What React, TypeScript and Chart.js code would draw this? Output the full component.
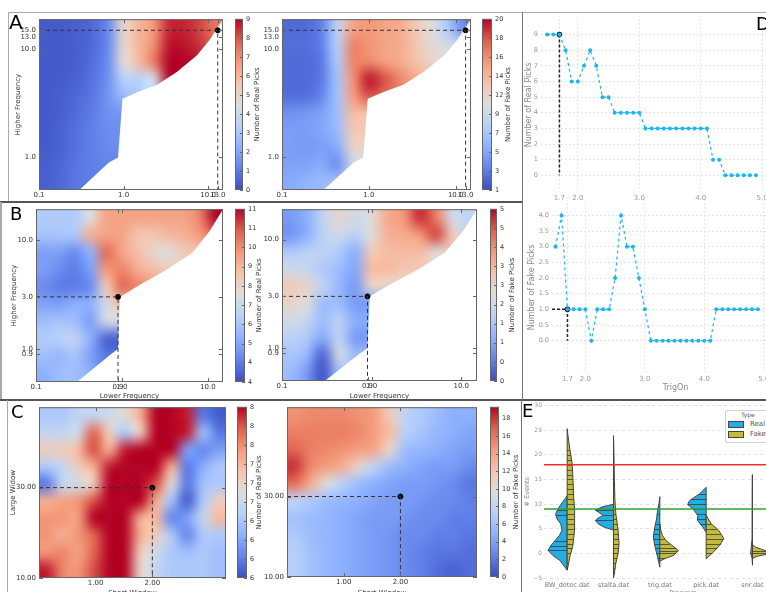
import React, { useEffect, useRef } from "react";
import { Chart, registerables } from "chart.js";
Chart.register(...registerables);
Chart.defaults.font.family = "'DejaVu Sans', sans-serif";

// ---------------- Panel A / B (frequency grids, log axes) ----------------
const A_X_TICKS = [0.1, 1.0, 10.0, 13.0];
const A_Y_TICKS = [1.0, 10.0, 13.0, 15.0];
const B_X_TICKS = [0.1, 0.9, 1.0, 10.0];
const B_Y_TICKS = [0.9, 1.0, 3.0, 10.0];
const A_BEST = [13.0, 15.0];
const B_BEST = [0.9, 3.0];
const LOW_RANGE = [0.1, 15];
const HIGH_RANGE = [0.5, 19];

// invalid region (lower >= higher), boundary in data coordinates
const MASK_A_X = [0.3, 0.67, 0.86, 0.97, 1.5, 2.5, 4.3, 7.4, 10.5, 15, 15];
const MASK_A_Y = [0.5, 0.9, 1.0, 3.5, 4.06, 4.7, 6.2, 8.8, 12.3, 19, 0.5];
const MASK_B_X = [0.3, 0.72, 0.9, 0.95, 1.6, 3.3, 6.6, 10.5, 15, 15];
const MASK_B_Y = [0.5, 0.88, 1.0, 3.0, 3.85, 5.3, 7.6, 12, 19, 0.5];

// rows: top (high) -> bottom (low); columns: left (low) -> right (high)
const A_REAL_GRID = [
  [0.3, 0.3, 0.4, 0.6, 1.3, 4.8, 6.0, 6.8, 8.6, 8.6, 8.2, 7.4],
  [0.3, 0.3, 0.4, 0.6, 1.3, 4.8, 6.0, 7.0, 8.8, 8.8, 8.4, 7.8],
  [0.3, 0.3, 0.4, 0.7, 1.4, 4.6, 5.8, 7.4, 9.0, 9.0, 8.8, 8.4],
  [0.3, 0.3, 0.5, 0.8, 1.5, 3.4, 3.4, 4.2, 9.0, 9.0, 9.0, 8.6],
  [0.3, 0.4, 0.6, 0.9, 1.6, 2.6, 3.0, 3.6, 9.0, 9.0, 9.0, 8.6],
  [0.3, 0.4, 0.7, 1.0, 1.5, 1.6, 1.6, 1.6, 1.6, 1.6, 1.6, 1.6],
  [0.3, 0.5, 0.8, 1.1, 1.4, 1.5, 1.5, 1.5, 1.5, 1.5, 1.5, 1.5],
  [0.3, 0.5, 0.8, 1.1, 1.3, 1.4, 1.4, 1.4, 1.4, 1.4, 1.4, 1.4],
  [0.4, 0.6, 0.9, 1.1, 1.2, 1.2, 1.2, 1.2, 1.2, 1.2, 1.2, 1.2],
  [0.4, 0.6, 0.9, 1.0, 1.0, 1.0, 1.0, 1.0, 1.0, 1.0, 1.0, 1.0],
];
const A_FAKE_GRID = [
  [2.3, 2.3, 3.3, 8.6, 14.7, 15.3, 14.7, 14.3, 12.4, 10.5, 7.6, 3.9],
  [2.5, 2.5, 3.3, 8.0, 16.2, 15.5, 14.7, 14.3, 12.8, 11.0, 10.0, 8.5],
  [2.3, 2.3, 3.0, 7.6, 16.0, 16.0, 15.0, 14.3, 13.0, 11.5, 10.5, 9.5],
  [2.3, 2.3, 3.0, 7.0, 15.5, 19.5, 18.0, 16.0, 14.5, 13.0, 11.5, 10.5],
  [2.5, 2.5, 3.6, 7.0, 15.0, 18.0, 17.0, 16.0, 15.0, 14.0, 13.0, 12.0],
  [4.2, 4.5, 5.0, 6.7, 13.3, 13.0, 13.0, 13.0, 13.0, 13.0, 13.0, 13.0],
  [4.8, 4.8, 5.2, 6.5, 12.5, 12.5, 12.5, 12.5, 12.5, 12.5, 12.5, 12.5],
  [4.8, 4.6, 4.8, 5.5, 11.5, 11.5, 11.5, 11.5, 11.5, 11.5, 11.5, 11.5],
  [5.0, 5.0, 5.5, 4.0, 9.5, 9.5, 9.5, 9.5, 9.5, 9.5, 9.5, 9.5],
  [5.5, 6.0, 6.5, 7.0, 8.0, 8.0, 8.0, 8.0, 8.0, 8.0, 8.0, 8.0],
];
const B_REAL_GRID = [
  [6.8, 6.8, 6.8, 8.0, 9.7, 9.7, 9.7, 9.7, 9.7, 9.7, 10.3, 11.9],
  [6.6, 6.6, 6.7, 9.5, 9.7, 9.7, 8.9, 8.9, 9.2, 9.4, 9.9, 10.7],
  [5.6, 5.6, 5.2, 6.0, 10.7, 9.7, 9.1, 8.3, 8.0, 8.7, 9.0, 9.5],
  [5.6, 5.2, 4.9, 5.6, 9.9, 10.3, 9.5, 9.1, 8.7, 8.7, 9.0, 9.5],
  [5.2, 4.9, 4.9, 5.2, 8.7, 10.7, 10.3, 9.9, 9.5, 9.5, 9.5, 9.5],
  [5.7, 5.6, 6.0, 6.0, 7.6, 9.0, 9.0, 9.0, 9.0, 9.0, 9.0, 9.0],
  [6.4, 6.6, 6.4, 5.6, 7.6, 7.6, 7.6, 7.6, 7.6, 7.6, 7.6, 7.6],
  [6.8, 7.0, 7.2, 6.0, 4.4, 4.4, 4.4, 4.4, 4.4, 4.4, 4.4, 4.4],
  [6.4, 6.2, 6.6, 5.6, 4.8, 4.8, 4.8, 4.8, 4.8, 4.8, 4.8, 4.8],
  [6.0, 6.4, 6.4, 6.0, 5.0, 5.0, 5.0, 5.0, 5.0, 5.0, 5.0, 5.0],
];
const B_FAKE_GRID = [
  [1.1, 1.4, 2.3, 3.1, 2.6, 2.9, 4.0, 4.3, 5.4, 4.6, 2.6, 2.3],
  [1.0, 1.4, 2.2, 2.6, 2.2, 2.9, 3.9, 4.0, 4.3, 5.2, 3.4, 2.3],
  [2.0, 2.2, 2.3, 2.0, 1.4, 3.4, 3.7, 3.7, 3.7, 2.9, 3.4, 3.4],
  [2.6, 2.4, 2.0, 1.7, 1.3, 3.7, 3.7, 3.5, 3.4, 3.4, 3.4, 3.4],
  [3.4, 3.1, 2.3, 1.6, 1.1, 3.1, 3.1, 3.1, 3.1, 3.1, 3.1, 3.1],
  [3.1, 2.9, 1.7, 1.7, 1.1, 1.1, 1.1, 1.1, 1.1, 1.1, 1.1, 1.1],
  [2.6, 2.4, 1.7, 2.2, 1.4, 1.4, 1.4, 1.4, 1.4, 1.4, 1.4, 1.4],
  [2.2, 2.0, 1.3, 2.3, 1.1, 1.1, 1.1, 1.1, 1.1, 1.1, 1.1, 1.1],
  [1.9, 1.6, 0.3, 2.6, 1.7, 1.7, 1.7, 1.7, 1.7, 1.7, 1.7, 1.7],
  [1.7, 1.1, 0.1, 1.7, 1.7, 1.7, 1.7, 1.7, 1.7, 1.7, 1.7, 1.7],
];

// ---------------- Panel C (window grids, linear axes) ----------------
const C_X_TICKS = [1.0, 2.0];
const C_Y_TICKS = [10.0, 30.0];
const C_BEST = [2.0, 30.0];
const C_REAL_GRID = [
  [7.0, 7.0, 7.2, 7.2, 7.3, 7.5, 8.0, 8.9, 8.9, 8.8, 6.3, 6.1],
  [7.2, 7.2, 7.3, 8.5, 7.7, 7.0, 7.7, 8.9, 8.9, 8.8, 6.9, 6.3],
  [7.7, 7.7, 7.9, 8.6, 8.0, 8.8, 8.9, 8.9, 8.9, 6.6, 6.4, 6.6],
  [7.0, 7.2, 7.7, 8.0, 8.8, 8.9, 8.9, 8.9, 8.0, 6.3, 6.7, 7.0],
  [6.3, 7.2, 7.3, 7.7, 8.9, 8.9, 8.9, 8.6, 7.5, 6.3, 6.9, 7.0],
  [8.0, 8.1, 8.2, 8.6, 8.9, 8.9, 8.9, 8.0, 6.9, 6.1, 7.0, 7.7],
  [8.2, 8.2, 8.1, 8.9, 8.9, 8.9, 8.0, 7.9, 6.4, 6.6, 7.2, 7.9],
  [8.2, 8.0, 8.2, 8.5, 8.9, 8.9, 8.0, 7.7, 7.0, 6.4, 7.0, 7.0],
  [8.2, 8.3, 8.1, 8.5, 8.9, 8.9, 7.7, 7.3, 7.0, 6.9, 7.0, 6.9],
  [8.8, 8.3, 8.2, 8.6, 8.9, 8.9, 7.6, 7.2, 7.0, 7.0, 7.0, 6.9],
];
const C_FAKE_GRID = [
  [14.8, 15.2, 15.2, 15.2, 14.8, 14.3, 11.4, 7.6, 6.7, 5.7, 4.8, 4.8],
  [15.6, 15.6, 15.6, 15.6, 15.2, 14.3, 12.4, 7.2, 6.3, 5.3, 4.8, 4.2],
  [16.7, 15.6, 15.2, 14.8, 14.3, 13.7, 10.5, 5.7, 5.3, 4.8, 4.2, 3.8],
  [18.1, 15.2, 14.3, 13.3, 10.5, 7.6, 5.7, 4.8, 4.2, 3.8, 3.8, 2.9],
  [16.2, 13.3, 9.5, 7.2, 5.7, 4.8, 4.2, 3.8, 3.8, 3.4, 2.9, 1.9],
  [7.6, 6.7, 5.7, 5.3, 4.8, 4.2, 3.8, 3.8, 3.4, 2.9, 2.9, 2.3],
  [6.1, 5.7, 5.3, 4.8, 4.2, 3.8, 3.8, 3.4, 2.9, 2.9, 2.3, 2.3],
  [6.7, 5.7, 5.3, 4.8, 4.2, 3.8, 3.4, 2.9, 2.9, 2.3, 2.3, 1.9],
  [7.2, 6.1, 5.3, 4.8, 4.2, 3.8, 3.4, 2.9, 2.3, 1.9, 1.9, 1.5],
  [7.2, 6.1, 5.3, 4.8, 4.2, 3.8, 3.4, 2.9, 2.3, 1.5, 1.0, 1.5],
];

// colour bar ranges and tick labels (bottom -> top)
const CB_A_REAL = { min: 0, max: 9, labels: ["0", "1", "2", "3", "4", "5", "6", "7", "8", "9"] };
const CB_A_FAKE = { min: 1, max: 20, labels: ["1", "3", "5", "7", "9", "12", "14", "16", "18", "20"] };
const CB_B_REAL = { min: 4, max: 11.9, labels: ["4", "4", "5", "6", "7", "8", "9", "10", "11", "11"] };
const CB_B_FAKE = { min: 0, max: 5.7, labels: ["0", "0", "1", "1", "2", "3", "3", "4", "5", "5"] };
const CB_C_REAL = { min: 6, max: 8.9, labels: ["6", "6", "6", "6", "7", "7", "7", "8", "8", "8"] };
const CB_C_FAKE = { min: 0, max: 19.3, ticks: [0, 2, 4, 6, 8, 10, 12, 14, 16, 18], labels: ["0", "2", "4", "6", "8", "10", "12", "14", "16", "18"] };

// ---------------- Panel D ----------------
const TRIG_ON = [1.5, 1.6, 1.7, 1.8, 1.9, 2.0, 2.1, 2.2, 2.3, 2.4, 2.5, 2.6, 2.7, 2.8, 2.9, 3.0, 3.1, 3.2, 3.3, 3.4, 3.5, 3.6, 3.7, 3.8, 3.9, 4.0, 4.1, 4.2, 4.3, 4.4, 4.5, 4.6, 4.7, 4.8, 4.9];
const REAL_PICKS = [9, 9, 9, 8, 6, 6, 7, 8, 7, 5, 5, 4, 4, 4, 4, 4, 3, 3, 3, 3, 3, 3, 3, 3, 3, 3, 3, 1, 1, 0, 0, 0, 0, 0, 0];
const FAKE_PICKS = [3, 4, 1, 1, 1, 1, 0, 1, 1, 1, 2, 4, 3, 3, 2, 1, 0, 0, 0, 0, 0, 0, 0, 0, 0, 0, 0, 1, 1, 1, 1, 1, 1, 1, 1];
const BEST_TRIG = 1.7;
const D_X_TICKS = [1.7, 2.0, 3.0, 4.0, 5.0];
const D_REAL_Y_TICKS = [0, 1, 2, 3, 4, 5, 6, 7, 8, 9];
const D_FAKE_Y_TICKS = [0, 0.5, 1, 1.5, 2, 2.5, 3, 3.5, 4];

// ---------------- Panel E (split violins) ----------------
const PROGRAMS = ["BW_detec.dat", "stalta.dat", "trig.dat", "pick.dat", "snr.dat"];
const E_Y_TICKS = [-5, 0, 5, 10, 15, 20, 25, 30];
const REAL_LIMIT = 9;
const FAKE_LIMIT = 18;
// outlines: [events, half width in category units]
const BW_REAL = [[-3.4, 0], [-2.4, 0.08], [-1.4, 0.16], [-0.5, 0.3], [0.6, 0.41], [1.5, 0.36], [2.6, 0.26], [3.6, 0.17], [4.7, 0.11], [6, 0.14], [7, 0.22], [8, 0.25], [9, 0.2], [10, 0.13], [11, 0.05], [11.7, 0]];
const BW_FAKE = [[-3.4, 0], [-2.6, 0.02], [-0.6, 0.06], [1.4, 0.12], [3, 0.14], [4.7, 0.16], [7, 0.16], [9, 0.16], [11.4, 0.14], [14, 0.13], [16, 0.12], [18, 0.11], [20, 0.08], [21, 0.06], [23, 0.03], [25.3, 0]];
const STALTA_REAL = [[4.8, 0.02], [5.3, 0.2], [6, 0.33], [6.7, 0.39], [7.2, 0.33], [7.7, 0.22], [8.2, 0.3], [8.8, 0.39], [9.4, 0.25], [9.9, 0.04]];
const STALTA_FAKE = [[-5, 0], [-4, 0.02], [-2, 0.05], [0, 0.1], [2, 0.12], [4.7, 0.1], [8, 0.05], [11, 0.03], [14.8, 0.02], [20, 0.01], [23.9, 0]];
const TRIG_REAL = [[-2.8, 0], [-0.7, 0.05], [1.6, 0.11], [3.3, 0.14], [5.3, 0.11], [7, 0.07], [8.7, 0.05], [10, 0.02], [11.5, 0]];
const TRIG_FAKE = [[-1.6, 0], [-1.1, 0.1], [-0.4, 0.3], [0.6, 0.4], [1.5, 0.28], [2.6, 0.13], [3.6, 0.06], [4.7, 0.02], [6, 0]];
const PICK_REAL = [[4.3, 0], [5.3, 0.07], [6.7, 0.19], [7.7, 0.18], [9.1, 0.29], [9.9, 0.4], [10.7, 0.36], [12.1, 0.14], [13.4, 0]];
const PICK_FAKE = [[-1.1, 0], [0.3, 0.16], [1.6, 0.29], [3, 0.38], [4.7, 0.27], [6, 0.11], [7.7, 0]];
const SNR_REAL = [[-2.4, 0], [-1, 0.01], [0, 0.04], [1, 0.03], [3, 0.01], [15.8, 0.006], [16, 0]];
const SNR_FAKE = [[-1, 0], [-0.6, 0.1], [-0.2, 0.3], [0.3, 0.36], [0.8, 0.2], [1.3, 0.06], [1.8, 0]];
// individual observations (sticks)
const BW_REAL_OBS = [0.6, 1.4, 2.6, 7.7, 8.8];
const BW_FAKE_OBS = [0, 1, 2, 3, 4, 5, 6, 7, 8, 9, 10, 11, 12, 13, 14, 15, 16, 17, 18, 19, 20, 21];
const STALTA_REAL_OBS = [6.7, 7.7, 8.8];
const STALTA_FAKE_OBS = [-3, -2, -1, 0, 1, 2, 3, 4, 5, 6, 7, 8, 9, 12, 15, 18];
const TRIG_REAL_OBS = [-1, 0, 1, 2, 3, 4, 5, 6, 8];
const TRIG_FAKE_OBS = [-1, 0, 0.5, 1, 2, 3];
const PICK_REAL_OBS = [6, 7, 8, 9, 10, 11, 12];
const PICK_FAKE_OBS = [0, 1, 2, 3, 4, 5, 6];
const SNR_REAL_OBS = [0];
const SNR_FAKE_OBS = [0, 0.5];

const REAL_COLOR = "#22aee2";
const FAKE_COLOR = "#c4ba3c";
const LINE_BLUE = "#1ab6ee";

// ---------------- helpers ----------------
const COOLWARM = [
  [0.0, 59, 76, 192], [0.125, 98, 130, 234], [0.25, 141, 176, 254], [0.375, 184, 208, 249],
  [0.5, 221, 221, 221], [0.625, 245, 196, 173], [0.75, 244, 154, 123], [0.875, 222, 96, 77], [1.0, 180, 4, 38],
];
function coolwarm(t: number) {
  t = Math.max(0, Math.min(1, t));
  for (let i = 1; i < COOLWARM.length; i++) {
    const a = COOLWARM[i - 1], b = COOLWARM[i];
    if (t <= b[0]) {
      const f = (t - a[0]) / (b[0] - a[0]);
      return [a[1] + f * (b[1] - a[1]), a[2] + f * (b[2] - a[2]), a[3] + f * (b[3] - a[3])];
    }
  }
  return [180, 4, 38];
}
const rgb = (c: number[]) => `rgb(${Math.round(c[0])},${Math.round(c[1])},${Math.round(c[2])})`;

const HEAT_TICK = 7;
const HEAT_TITLE = 7;
const CB_TICK = 6.5;
const CB_TITLE = 7;

function ChartCanvas({ x, y, w, h, make }: any) {
  const ref = useRef<HTMLCanvasElement>(null);
  useEffect(() => {
    const chart = new Chart(ref.current as any, make(w, h));
    return () => chart.destroy();
  }, []);
  return <canvas ref={ref} width={w} height={h} style={{ position: "absolute", left: x, top: y, width: w, height: h }} />;
}

function axisOpts(type: string, min: number, max: number, ticks: number[], labels: string[], title: string | undefined, fit: any, pad: number) {
  return {
    type, min, max,
    afterBuildTicks: (s: any) => { s.ticks = ticks.map((v) => ({ value: v })); },
    afterFit: fit,
    grid: { display: false, drawTicks: false },
    border: { display: false },
    ticks: { autoSkip: false, maxRotation: 0, minRotation: 0, padding: pad, color: "#333", font: { size: HEAT_TICK }, callback: (_v: any, i: number) => labels[i] },
    title: { display: !!title, text: title || "", color: "#333", font: { size: HEAT_TITLE }, padding: 0 },
  };
}

function heatPlugin(c: any) {
  return {
    id: "heat",
    beforeDatasetsDraw(chart: any) {
      const { ctx, chartArea: a, scales } = chart;
      const xs = scales.x, ys = scales.y;
      const rows = c.grid.length, cols = c.grid[0].length;
      const off = document.createElement("canvas");
      off.width = cols; off.height = rows;
      const o = off.getContext("2d") as CanvasRenderingContext2D;
      const img = o.createImageData(cols, rows);
      for (let r = 0; r < rows; r++) {
        for (let k = 0; k < cols; k++) {
          const col = coolwarm((c.grid[r][k] - c.vMin) / (c.vMax - c.vMin));
          const p = (r * cols + k) * 4;
          img.data[p] = col[0]; img.data[p + 1] = col[1]; img.data[p + 2] = col[2]; img.data[p + 3] = 255;
        }
      }
      o.putImageData(img, 0, 0);
      const x0 = xs.getPixelForValue(c.xMin), x1 = xs.getPixelForValue(c.xMax);
      const y0 = ys.getPixelForValue(c.yMax), y1 = ys.getPixelForValue(c.yMin);
      ctx.save();
      ctx.beginPath(); ctx.rect(a.left, a.top, a.width, a.height); ctx.clip();
      ctx.imageSmoothingEnabled = true;
      (ctx as any).imageSmoothingQuality = "high";
      ctx.drawImage(off, x0, y0, x1 - x0, y1 - y0);
      if (c.maskX) {
        ctx.fillStyle = "#fff";
        ctx.beginPath();
        c.maskX.forEach((mx: number, i: number) => {
          const px = xs.getPixelForValue(mx), py = ys.getPixelForValue(c.maskY[i]);
          if (i) ctx.lineTo(px, py); else ctx.moveTo(px, py);
        });
        ctx.closePath(); ctx.fill();
      }
      ctx.restore();
    },
    afterDatasetsDraw(chart: any) {
      const { ctx, chartArea: a, scales } = chart;
      ctx.save();
      ctx.strokeStyle = "#666"; ctx.lineWidth = 1;
      ctx.strokeRect(a.left + 0.5, a.top + 0.5, a.width - 1, a.height - 1);
      ctx.beginPath();
      c.xTicks.forEach((v: number) => {
        const px = Math.round(scales.x.getPixelForValue(v)) + 0.5;
        ctx.moveTo(px, a.bottom); ctx.lineTo(px, a.bottom - 4);
        ctx.moveTo(px, a.top); ctx.lineTo(px, a.top + 4);
      });
      c.yTicks.forEach((v: number) => {
        const py = Math.round(scales.y.getPixelForValue(v)) + 0.5;
        ctx.moveTo(a.left, py); ctx.lineTo(a.left + 4, py);
        ctx.moveTo(a.right, py); ctx.lineTo(a.right - 4, py);
      });
      ctx.stroke();
      ctx.restore();
    },
  };
}

function heatConfig(c: any) {
  return (W: number, H: number) => ({
    type: "scatter",
    data: {
      datasets: [
        { data: [{ x: c.xMin, y: c.best[1] }, { x: c.best[0], y: c.best[1] }, { x: c.best[0], y: c.yMin }], showLine: true, borderColor: "#333", borderWidth: 1, borderDash: [4, 3], pointRadius: 0 },
        { data: [{ x: c.best[0], y: c.best[1] }], pointRadius: 2.5, pointBackgroundColor: "#000", pointBorderColor: "#000", showLine: false },
      ],
    },
    options: {
      responsive: false, animation: false, events: [],
      layout: { padding: { left: c.padL, top: c.area.t, right: W - c.area.r, bottom: 0 } },
      plugins: { legend: { display: false }, tooltip: { enabled: false } },
      scales: {
        x: axisOpts(c.xType, c.xMin, c.xMax, c.xTicks, c.xTicks.map((v: number) => v.toFixed(c.dec)), c.xTitle, (s: any) => { s.height = H - c.area.b; }, 1),
        y: axisOpts(c.yType, c.yMin, c.yMax, c.yTicks, c.yTicks.map((v: number) => v.toFixed(c.dec)), c.yTitle, (s: any) => { s.width = c.area.l - c.padL; }, 3),
      },
    },
    plugins: [heatPlugin(c)],
  });
}

function cbConfig(c: any) {
  const ticks = c.cb.ticks || c.cb.labels.map((_l: string, i: number) => c.cb.min + (i * (c.cb.max - c.cb.min)) / (c.cb.labels.length - 1));
  return (W: number, H: number) => ({
    type: "scatter",
    data: { datasets: [] },
    options: {
      responsive: false, animation: false, events: [],
      layout: { padding: { left: c.area.l, top: c.area.t, right: 0, bottom: H - c.area.b } },
      plugins: { legend: { display: false }, tooltip: { enabled: false } },
      scales: {
        x: { display: false, min: 0, max: 1 },
        y: {
          position: "right", min: c.cb.min, max: c.cb.max,
          afterBuildTicks: (s: any) => { s.ticks = ticks.map((v: number) => ({ value: v })); },
          afterFit: (s: any) => { s.width = W - c.area.r; },
          grid: { display: false, drawTicks: false }, border: { display: false },
          ticks: { autoSkip: false, padding: 3, color: "#333", font: { size: CB_TICK }, callback: (_v: any, i: number) => c.cb.labels[i] },
        },
      },
    },
    plugins: [{
      id: "cb",
      beforeDatasetsDraw(chart: any) {
        const { ctx, chartArea: a, scales } = chart;
        const yTop = scales.y.getPixelForValue(c.cb.max), yBot = scales.y.getPixelForValue(c.cb.min);
        const g = ctx.createLinearGradient(0, yBot, 0, yTop);
        COOLWARM.forEach((s) => g.addColorStop(s[0], rgb([s[1], s[2], s[3]])));
        ctx.save();
        ctx.fillStyle = g;
        ctx.fillRect(a.left, yTop, a.width, yBot - yTop);
        ctx.strokeStyle = "#666"; ctx.lineWidth = 1;
        ctx.strokeRect(a.left + 0.5, yTop + 0.5, a.width - 1, yBot - yTop - 1);
        ctx.beginPath();
        ticks.forEach((v: number) => {
          const py = Math.round(scales.y.getPixelForValue(v)) + 0.5;
          ctx.moveTo(a.right, py); ctx.lineTo(a.right - 3, py);
        });
        ctx.stroke();
        ctx.translate(c.titleX, (a.top + a.bottom) / 2);
        ctx.rotate(-Math.PI / 2);
        ctx.fillStyle = "#333"; ctx.font = `${CB_TITLE}px 'DejaVu Sans', sans-serif`;
        ctx.textAlign = "center"; ctx.textBaseline = "middle";
        ctx.fillText(c.title, 0, 0);
        ctx.restore();
      },
    }],
  });
}

const AB_COMMON = { xType: "logarithmic", yType: "logarithmic", xMin: LOW_RANGE[0], xMax: LOW_RANGE[1], yMin: HIGH_RANGE[0], yMax: HIGH_RANGE[1], dec: 1 };
const HEATS = [
  { pos: [0, 12, 230, 190], cfg: { ...AB_COMMON, grid: A_REAL_GRID, vMin: CB_A_REAL.min, vMax: CB_A_REAL.max, xTicks: A_X_TICKS, yTicks: A_Y_TICKS, best: A_BEST, maskX: MASK_A_X, maskY: MASK_A_Y, area: { l: 39, t: 5, r: 223, b: 178 }, padL: 14, yTitle: "Higher Frequency" } },
  { pos: [250, 12, 232, 190], cfg: { ...AB_COMMON, grid: A_FAKE_GRID, vMin: CB_A_FAKE.min, vMax: CB_A_FAKE.max, xTicks: A_X_TICKS, yTicks: A_Y_TICKS, best: A_BEST, maskX: MASK_A_X, maskY: MASK_A_Y, area: { l: 32, t: 5, r: 221, b: 178 }, padL: 0 } },
  { pos: [0, 202, 230, 198], cfg: { ...AB_COMMON, grid: B_REAL_GRID, vMin: CB_B_REAL.min, vMax: CB_B_REAL.max, xTicks: B_X_TICKS, yTicks: B_Y_TICKS, best: B_BEST, maskX: MASK_B_X, maskY: MASK_B_Y, area: { l: 36, t: 4, r: 223, b: 180 }, padL: 10, yTitle: "Higher Frequency", xTitle: "Lower Frequency" } },
  { pos: [250, 202, 232, 198], cfg: { ...AB_COMMON, grid: B_FAKE_GRID, vMin: CB_B_FAKE.min, vMax: CB_B_FAKE.max, xTicks: B_X_TICKS, yTicks: B_Y_TICKS, best: B_BEST, maskX: MASK_B_X, maskY: MASK_B_Y, area: { l: 32, t: 5, r: 228, b: 179 }, padL: 0, xTitle: "Lower Frequency" } },
  { pos: [0, 400, 232, 197], cfg: { xType: "linear", yType: "linear", xMin: 0, xMax: 3.3, yMin: 10, yMax: 47.8, dec: 2, grid: C_REAL_GRID, vMin: CB_C_REAL.min, vMax: CB_C_REAL.max, xTicks: C_X_TICKS, yTicks: C_Y_TICKS, best: C_BEST, area: { l: 39, t: 2, r: 226, b: 178 }, padL: 9, yTitle: "Large Widow", xTitle: "Short Window" } },
  { pos: [250, 400, 232, 197], cfg: { xType: "linear", yType: "linear", xMin: 0, xMax: 3.35, yMin: 10, yMax: 52.2, dec: 2, grid: C_FAKE_GRID, vMin: CB_C_FAKE.min, vMax: CB_C_FAKE.max, xTicks: C_X_TICKS, yTicks: C_Y_TICKS, best: C_BEST, area: { l: 37, t: 2, r: 228, b: 177 }, padL: 0, xTitle: "Short Window" } },
];
const BARS = [
  { pos: [231, 12, 36, 190], cfg: { cb: CB_A_REAL, area: { l: 4, t: 5, r: 12, b: 178 }, titleX: 26, title: "Number of Real Picks" } },
  { pos: [478, 12, 40, 190], cfg: { cb: CB_A_FAKE, area: { l: 4, t: 5, r: 14, b: 178 }, titleX: 30, title: "Number of Fake Picks" } },
  { pos: [231, 202, 36, 198], cfg: { cb: CB_B_REAL, area: { l: 4, t: 4, r: 14, b: 180 }, titleX: 28, title: "Number of Real Picks" } },
  { pos: [486, 202, 36, 198], cfg: { cb: CB_B_FAKE, area: { l: 4, t: 5, r: 11, b: 179 }, titleX: 26, title: "Number of Fake Picks" } },
  { pos: [233, 400, 34, 192], cfg: { cb: CB_C_REAL, area: { l: 4, t: 2, r: 14, b: 178 }, titleX: 26, title: "Number of Real Picks" } },
  { pos: [486, 400, 36, 192], cfg: { cb: CB_C_FAKE, area: { l: 4, t: 2, r: 13, b: 177 }, titleX: 30, title: "Number of Fake Picks" } },
];

// ---------------- panel D configs ----------------
function lineAxis(min: number, max: number, ticks: number[], labels: string[], title: string | undefined, fit: any, tickSize: number) {
  return {
    type: "linear", min, max,
    afterBuildTicks: (s: any) => { s.ticks = ticks.map((v) => ({ value: v })); },
    afterFit: fit,
    grid: { color: "#e4e4e4", drawTicks: false },
    border: { display: false, dash: [2, 2] },
    ticks: { autoSkip: false, maxRotation: 0, padding: 3, color: "#999", font: { size: tickSize }, callback: (_v: any, i: number) => labels[i] },
    title: { display: !!title, text: title || "", color: "#888", font: { size: 8 }, padding: 0 },
  };
}

function dConfig(values: number[], yMin: number, yMax: number, yTicks: number[], yDec: number, yTitle: string, xMin: number, xMax: number, area: any, padL: number, xTitle: string | undefined, guideFromLeft: boolean) {
  return (W: number, H: number) => {
    const bestVal = values[TRIG_ON.indexOf(BEST_TRIG)];
    const guide = guideFromLeft ? [{ x: xMin, y: bestVal }, { x: BEST_TRIG, y: bestVal }, { x: BEST_TRIG, y: 0 }] : [{ x: BEST_TRIG, y: bestVal }, { x: BEST_TRIG, y: 0 }];
    return {
      type: "scatter",
      data: {
        datasets: [
          { data: TRIG_ON.map((t, i) => ({ x: t, y: values[i] })), showLine: true, borderColor: LINE_BLUE, borderWidth: 1.2, borderDash: [3, 3], pointRadius: 2, pointBackgroundColor: LINE_BLUE, pointBorderWidth: 0 },
          { data: guide, showLine: true, borderColor: "#222", borderWidth: 1.5, borderDash: [3, 2], pointRadius: 0 },
          { data: [{ x: BEST_TRIG, y: bestVal }], pointRadius: 2.8, pointBackgroundColor: "#111", pointBorderWidth: 0 },
        ],
      },
      options: {
        responsive: false, animation: false, events: [],
        layout: { padding: { left: padL, top: area.t, right: W - area.r, bottom: 0 } },
        plugins: { legend: { display: false }, tooltip: { enabled: false } },
        scales: {
          x: lineAxis(xMin, xMax, D_X_TICKS, D_X_TICKS.map((v) => v.toFixed(1)), xTitle, (s: any) => { s.height = H - area.b; }, 7),
          y: lineAxis(yMin, yMax, yTicks, yTicks.map((v) => v.toFixed(yDec)), yTitle, (s: any) => { s.width = area.l - padL; }, 6.5),
        },
      },
    };
  };
}

// ---------------- panel E config ----------------
const VIOLINS = [
  { real: BW_REAL, fake: BW_FAKE, realObs: BW_REAL_OBS, fakeObs: BW_FAKE_OBS },
  { real: STALTA_REAL, fake: STALTA_FAKE, realObs: STALTA_REAL_OBS, fakeObs: STALTA_FAKE_OBS },
  { real: TRIG_REAL, fake: TRIG_FAKE, realObs: TRIG_REAL_OBS, fakeObs: TRIG_FAKE_OBS },
  { real: PICK_REAL, fake: PICK_FAKE, realObs: PICK_REAL_OBS, fakeObs: PICK_FAKE_OBS },
  { real: SNR_REAL, fake: SNR_FAKE, realObs: SNR_REAL_OBS, fakeObs: SNR_FAKE_OBS },
];
function widthAt(shape: number[][], v: number) {
  for (let i = 1; i < shape.length; i++) {
    const a = shape[i - 1], b = shape[i];
    if (v >= a[0] && v <= b[0]) return a[1] + ((v - a[0]) / (b[0] - a[0])) * (b[1] - a[1]);
  }
  return 0;
}
function drawHalf(ctx: any, xs: any, ys: any, i: number, side: number, shape: number[][], obs: number[], color: string) {
  ctx.beginPath();
  ctx.moveTo(xs.getPixelForValue(i), ys.getPixelForValue(shape[0][0]));
  shape.forEach(([yy, w]) => ctx.lineTo(xs.getPixelForValue(i + side * w), ys.getPixelForValue(yy)));
  ctx.lineTo(xs.getPixelForValue(i), ys.getPixelForValue(shape[shape.length - 1][0]));
  ctx.closePath();
  ctx.fillStyle = color; ctx.fill();
  ctx.strokeStyle = "#444"; ctx.lineWidth = 1; ctx.stroke();
  ctx.beginPath();
  obs.forEach((o) => {
    const w = widthAt(shape, o);
    const py = Math.round(ys.getPixelForValue(o)) + 0.5;
    ctx.moveTo(xs.getPixelForValue(i), py);
    ctx.lineTo(xs.getPixelForValue(i + side * w), py);
  });
  ctx.strokeStyle = "#3a3a3a"; ctx.lineWidth = 0.8; ctx.stroke();
}
const eConfig = (W: number, H: number) => {
  const area = { l: 21, t: 5, r: 299, b: 178 };
  return {
    type: "scatter",
    data: {
      datasets: [
        { data: [{ x: -0.5, y: FAKE_LIMIT }, { x: 5.5, y: FAKE_LIMIT }], showLine: true, borderColor: "#ff2b2b", borderWidth: 1.5, pointRadius: 0 },
        { data: [{ x: -0.5, y: REAL_LIMIT }, { x: 5.5, y: REAL_LIMIT }], showLine: true, borderColor: "#2ea22e", borderWidth: 1.5, pointRadius: 0 },
      ],
    },
    options: {
      responsive: false, animation: false, events: [],
      layout: { padding: { left: 0, top: area.t, right: W - area.r, bottom: 0 } },
      plugins: { legend: { display: false }, tooltip: { enabled: false } },
      scales: {
        x: {
          type: "linear", min: -0.5, max: 5.5,
          afterBuildTicks: (s: any) => { s.ticks = PROGRAMS.map((_p, i) => ({ value: i })); },
          afterFit: (s: any) => { s.height = H - area.b; },
          grid: { display: false, drawTicks: false }, border: { display: false },
          ticks: { autoSkip: false, maxRotation: 0, padding: 3, color: "#777", font: { size: 6.5 }, callback: (_v: any, i: number) => PROGRAMS[i] },
          title: { display: true, text: "Program", color: "#777", font: { size: 6.5 }, padding: 0 },
        },
        y: {
          type: "linear", min: -5, max: 30,
          afterBuildTicks: (s: any) => { s.ticks = E_Y_TICKS.map((v) => ({ value: v })); },
          afterFit: (s: any) => { s.width = area.l; },
          grid: { color: "#e2e2e2", drawTicks: false }, border: { display: false, dash: [3, 3] },
          ticks: { autoSkip: false, padding: 2, color: "#999", font: { size: 6 }, callback: (_v: any, i: number) => String(E_Y_TICKS[i]).replace("-", "\u2212") },
          title: { display: true, text: "# Events", color: "#888", font: { size: 6.5 }, padding: 0 },
        },
      },
    },
    plugins: [{
      id: "violins",
      beforeDatasetsDraw(chart: any) {
        const { ctx, chartArea: a, scales } = chart;
        ctx.save();
        ctx.beginPath(); ctx.rect(a.left, a.top, a.width, a.height); ctx.clip();
        VIOLINS.forEach((v, i) => {
          drawHalf(ctx, scales.x, scales.y, i, -1, v.real, v.realObs, REAL_COLOR);
          drawHalf(ctx, scales.x, scales.y, i, 1, v.fake, v.fakeObs, FAKE_COLOR);
        });
        ctx.restore();
      },
    }],
  };
};

const line = (l: number, t: number, w: number, h: number, c: string) => (
  <div style={{ position: "absolute", left: l, top: t, width: w, height: h, background: c }} />
);
const letter = (txt: string, l: number, t: number, size: number) => (
  <div style={{ position: "absolute", left: l, top: t, fontSize: size, lineHeight: `${size}px`, color: "#000", fontFamily: "'DejaVu Sans', sans-serif" }}>{txt}</div>
);

export default function App() {
  return (
    <div style={{ position: "absolute", left: 0, top: 0, width: 766, height: 592, overflow: "hidden", background: "#fff", fontFamily: "'DejaVu Sans', sans-serif" }}>
      {HEATS.map((h, i) => (
        <ChartCanvas key={"h" + i} x={h.pos[0]} y={h.pos[1]} w={h.pos[2]} h={h.pos[3]} make={heatConfig(h.cfg)} />
      ))}
      {BARS.map((b, i) => (
        <ChartCanvas key={"b" + i} x={b.pos[0]} y={b.pos[1]} w={b.pos[2]} h={b.pos[3]} make={cbConfig(b.cfg)} />
      ))}
      <ChartCanvas x={523} y={12} w={280} h={190} make={dConfig(REAL_PICKS, -1, 10, D_REAL_Y_TICKS, 0, "Number of Real Picks", 1.4, 5.6, { l: 18, t: 4, r: 278, b: 179 }, 1, undefined, false)} />
      <ChartCanvas x={523} y={196} w={280} h={197} make={dConfig(FAKE_PICKS, -1, 4.4, D_FAKE_Y_TICKS, 1, "Number of Fake Picks", 1.44, 5.59, { l: 29, t: 3, r: 278, b: 176 }, 4, "TrigOn", true)} />
      <ChartCanvas x={523} y={400} w={299} h={197} make={eConfig} />

      {/* legend of panel E */}
      <div style={{ position: "absolute", left: 725, top: 410, width: 70, height: 31, border: "1px solid #d0d0d0", borderRadius: 2, background: "#fff" }} />
      <div style={{ position: "absolute", left: 741, top: 411, fontSize: 6, lineHeight: "7px", color: "#555" }}>Type</div>
      <div style={{ position: "absolute", left: 728, top: 421, width: 14, height: 5, background: REAL_COLOR, border: "1px solid #444" }} />
      <div style={{ position: "absolute", left: 750, top: 420, fontSize: 7, lineHeight: "8px", color: "#555" }}>Real</div>
      <div style={{ position: "absolute", left: 728, top: 431, width: 14, height: 5, background: FAKE_COLOR, border: "1px solid #444" }} />
      <div style={{ position: "absolute", left: 750, top: 430, fontSize: 7, lineHeight: "8px", color: "#555" }}>Fake</div>

      {/* panel frames */}
      {line(8, 12, 758, 1, "#aaa")}
      {line(8, 12, 1, 190, "#aaa")}
      {line(0, 201, 522, 2, "#555")}
      {line(0, 202, 2, 198, "#aaa")}
      {line(0, 399, 766, 2, "#555")}
      {line(7, 400, 1, 192, "#aaa")}
      {line(522, 12, 1, 388, "#777")}
      {line(521, 400, 1, 192, "#777")}

      {letter("A", 9, 12, 20)}
      {letter("B", 10, 205, 18)}
      {letter("C", 11, 403, 18)}
      {letter("D", 756, 15, 18)}
      {letter("E", 522, 402, 18)}
    </div>
  );
}
